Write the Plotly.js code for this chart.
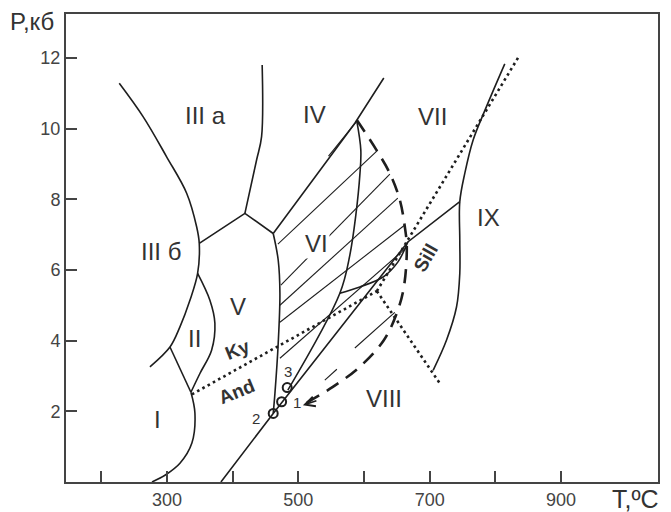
<!DOCTYPE html>
<html><head><meta charset="utf-8">
<script src="https://cdn.plot.ly/plotly-3.0.1.min.js"></script>
<style>html,body{margin:0;padding:0;background:#fff}</style>
</head><body><div id="chart" style="width:671px;height:512px"></div>
<script>
// ---- Data (T in °C, P in kbar) ----
const leftCurveT = [227.4, 263.9, 299.5, 330.0, 345.2, 349.2, 346.7, 335.0, 319.8, 304.6, 274.1];
const leftCurveP = [11.28, 10.33, 9.20, 8.17, 7.22, 6.75, 5.90, 5.14, 4.39, 3.82, 3.26];
const twoRightT = [346.7, 365.4, 373.0, 368.0, 350.2, 336.5];
const twoRightP = [5.90, 5.14, 4.49, 3.73, 3.07, 2.54];
const oneCurveT = [336.5, 342.6, 338.0, 319.8, 297.0, 277.2];
const oneCurveP = [2.54, 1.95, 1.10, 0.53, 0.19, 0.0];
const twoOneT = [304.6, 336.5];
const twoOneP = [3.82, 2.54];
const threeFiveT = [349.2, 418.7, 461.8];
const threeFiveP = [6.75, 7.60, 7.03];
const threeFourT = [418.7, 436.5, 444.1, 445.0];
const threeFourP = [7.60, 9.11, 9.77, 11.80];
const fourSixT = [461.8, 586.1, 630.2];
const fourSixP = [7.03, 10.15, 11.43];
const fiveSixT = [461.8, 469.4, 472.0, 469.4, 464.4, 461.8];
const fiveSixP = [7.03, 6.28, 5.33, 3.92, 2.50, 1.94];
const lineAT = [382.2, 461.8, 666.8, 745.9];
const lineAP = [0.0, 1.94, 6.79, 7.93];
const curveBT = [484.1, 563.3, 578.5, 587.6, 593.7, 595.2, 589.1];
const curveBP = [2.60, 5.34, 6.42, 7.55, 8.68, 9.39, 10.21];
const curveCT = [563.3, 593.7, 629.2, 651.5, 666.8];
const curveCP = [5.34, 5.52, 5.80, 6.22, 6.79];
const nineT = [814.4, 786.5, 766.1, 753.5, 745.9, 745.9, 745.9, 740.9, 725.6, 705.3];
const nineP = [11.83, 10.62, 9.67, 8.73, 7.93, 6.84, 5.90, 4.95, 4.01, 3.16];
const kyAndT = [338.0, 619.6];
const kyAndP = [2.48, 5.40];
const kySillT = [619.6, 837.2];
const kySillP = [5.40, 12.08];
const andSillT = [619.6, 715.5];
const andSillP = [5.40, 2.79];
const dashT = [589.1, 619.1, 639.4, 654.6, 662.2, 665.2, 660.7, 650.0, 630.2, 593.7, 552.6, 511.5];
const dashP = [10.24, 9.39, 8.73, 7.98, 7.22, 6.65, 5.51, 4.78, 4.01, 3.26, 2.69, 2.23];
const hatchT = [546.0, 589.1, null, 468.9, 621.1, null, 473.5, 639.4, null, 472.0, 651.5, null,
                472.0, 662.2, null, 472.0, 665.2, null, 586.1, 647.0, null, 540.4, 558.7];
const hatchP = [9.22, 10.21, null, 6.73, 9.39, null, 5.57, 8.71, null, 5.00, 8.03, null,
                4.52, 7.27, null, 3.50, 6.64, null, 3.79, 4.80, null, 2.88, 3.19];
const pointNames = ['2', '1', '3'];
const pointT = [461.8, 474.6, 483.1];
const pointP = [1.94, 2.27, 2.67];
const pointLabelT = [435.4, 497.8, 484.1];
const pointLabelP = [1.80, 2.26, 3.13];
const regionNames = ['III a', 'IV', 'VII', 'III б', 'V', 'VI', 'II', 'I', 'VIII', 'IX'];
const regionT = [359.4, 525.2, 704.8, 290.9, 408.0, 528.3, 342.6, 286.3, 630.2, 790.0];
const regionP = [10.38, 10.41, 10.35, 6.53, 4.97, 6.76, 4.07, 1.76, 2.37, 7.47];
const mineralNames = ['Ky', 'And', 'Sill'];
const mineralT = [408.0, 406.5, 694.1];
const mineralP = [3.76, 2.57, 6.36];
const mineralAngle = [-22, -22, -60];
const xTickVals = [200, 300, 400, 500, 600, 700, 800, 900];
const xTickText = ['', '300', '', '500', '', '700', '', '900'];
const yTickVals = [2, 4, 6, 8, 10, 12];

// ---- Build ----
const LC = '#1e1e1e';
const FONT = 'Liberation Sans, Arial, sans-serif';
function solid(x, y, spline, w) {
  return {x: x, y: y, type: 'scatter', mode: 'lines', hoverinfo: 'skip', showlegend: false,
    line: {color: LC, width: w || 1.6, shape: spline ? 'spline' : 'linear'}};
}
function dotted(x, y) {
  return {x: x, y: y, type: 'scatter', mode: 'lines', showlegend: false,
    line: {color: LC, width: 2.6, dash: '2.6px,3.4px'}};
}
const traces = [
  solid(leftCurveT, leftCurveP, true),
  solid(twoRightT, twoRightP, true),
  solid(oneCurveT, oneCurveP, true),
  solid(twoOneT, twoOneP, false),
  solid(threeFiveT, threeFiveP, false),
  solid(threeFourT, threeFourP, true),
  solid(fourSixT, fourSixP, false),
  solid(fiveSixT, fiveSixP, true),
  solid(lineAT, lineAP, false),
  solid(curveBT, curveBP, true),
  solid(curveCT, curveCP, true),
  solid(nineT, nineP, true),
  solid(hatchT, hatchP, false, 1.1),
  dotted(kyAndT, kyAndP),
  dotted(kySillT, kySillP),
  dotted(andSillT, andSillP),
  {x: dashT, y: dashP, type: 'scatter', mode: 'lines', showlegend: false,
   line: {color: LC, width: 2.6, dash: '14px,9px', shape: 'spline'}},
  {x: pointT, y: pointP, type: 'scatter', mode: 'markers', showlegend: false,
   marker: {symbol: 'circle-open', size: 9, color: LC, line: {width: 2, color: LC}}}
];

const annotations = [];
regionNames.forEach((n, i) => annotations.push({
  x: regionT[i], y: regionP[i], xref: 'x', yref: 'y', text: n, showarrow: false,
  font: {family: FONT, size: 24, color: '#333'},
  bgcolor: n === 'VI' ? 'white' : 'rgba(0,0,0,0)'
}));
mineralNames.forEach((n, i) => annotations.push({
  x: mineralT[i], y: mineralP[i], xref: 'x', yref: 'y', text: '<b>' + n + '</b>', showarrow: false,
  textangle: mineralAngle[i], font: {family: FONT, size: 19, color: '#333'}
}));
pointNames.forEach((n, i) => annotations.push({
  x: pointLabelT[i], y: pointLabelP[i], xref: 'x', yref: 'y', text: n, showarrow: false,
  font: {family: FONT, size: 15, color: '#333'}
}));
annotations.push({x: -0.098, y: 0.985, xref: 'paper', yref: 'paper', xanchor: 'left', yanchor: 'middle',
  text: 'P,кб', showarrow: false, font: {family: FONT, size: 24, color: '#333'}});
annotations.push({x: 1.005, y: -0.036, xref: 'paper', yref: 'paper', xanchor: 'right', yanchor: 'middle',
  text: 'T,ºC', showarrow: false, font: {family: FONT, size: 25, color: '#333'}});
annotations.push({x: 507.0, y: 2.17, xref: 'x', yref: 'y', ax: 15, ay: -5, text: '', showarrow: true,
  arrowhead: 5, arrowsize: 1.3, arrowwidth: 1.5, arrowcolor: LC});

const layout = {
  width: 671, height: 512,
  margin: {l: 66, r: 13, t: 14, b: 30},
  paper_bgcolor: 'white', plot_bgcolor: 'white',
  showlegend: false,
  font: {family: FONT, color: '#333'},
  xaxis: {range: [146.3, 1047.7], showgrid: false, zeroline: false,
    tickvals: xTickVals, ticktext: xTickText, ticks: 'inside', ticklen: 11, tickwidth: 2, tickcolor: '#444',
    showline: true, linecolor: '#444', linewidth: 2, mirror: true,
    tickfont: {family: FONT, size: 18, color: '#444'}},
  yaxis: {range: [0, 13.24], showgrid: false, zeroline: false,
    tickvals: yTickVals, ticks: 'inside', ticklen: 11, tickwidth: 2, tickcolor: '#444',
    showline: true, linecolor: '#444', linewidth: 2, mirror: true,
    tickfont: {family: FONT, size: 18, color: '#444'}},
  annotations: annotations
};
Plotly.newPlot('chart', traces, layout, {displayModeBar: false, staticPlot: true});
</script></body></html>
